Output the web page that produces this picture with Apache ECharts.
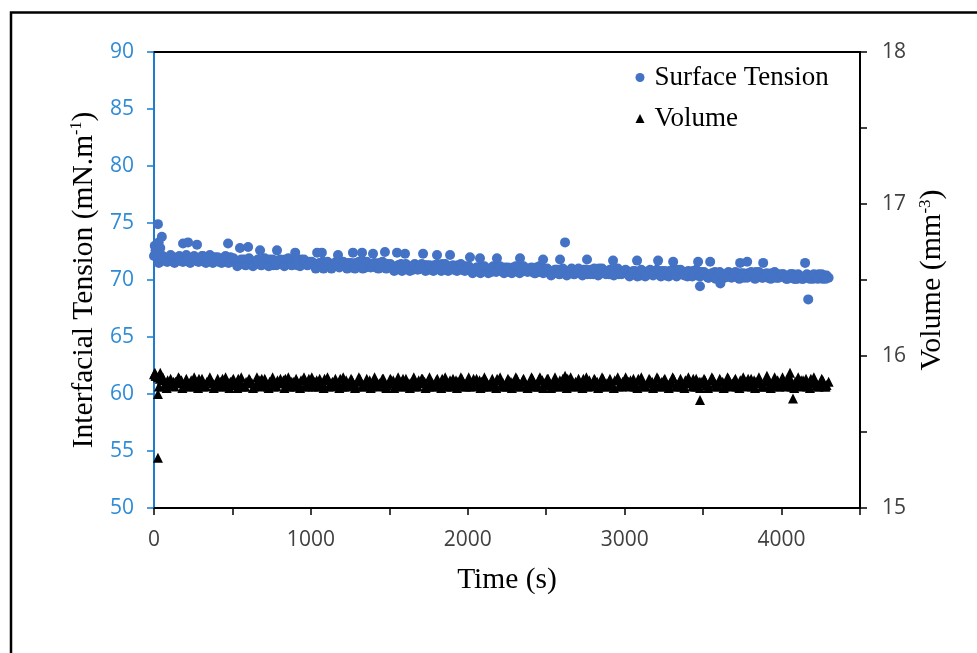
<!DOCTYPE html>
<html>
<head>
<meta charset="utf-8">
<script src="https://cdn.jsdelivr.net/npm/echarts@6/dist/echarts.min.js"></script>
<style>
html,body{margin:0;padding:0;background:#fff;}
#chart{width:977px;height:653px;}
</style>
</head>
<body>
<div id="chart"></div>
<script>
// Time stamps (s) of the dense measurement band (three interleaved sets)
const times = [
0,25,50,75,100,125,150,175,200,225,250,275,300,325,350,375,400,425,450,475,
500,525,550,575,600,625,650,675,700,725,750,775,800,825,850,875,900,925,950,975,
1000,1025,1050,1075,1100,1125,1150,1175,1200,1225,1250,1275,1300,1325,1350,1375,1400,1425,1450,1475,
1500,1525,1550,1575,1600,1625,1650,1675,1700,1725,1750,1775,1800,1825,1850,1875,1900,1925,1950,1975,
2000,2025,2050,2075,2100,2125,2150,2175,2200,2225,2250,2275,2300,2325,2350,2375,2400,2425,2450,2475,
2500,2525,2550,2575,2600,2625,2650,2675,2700,2725,2750,2775,2800,2825,2850,2875,2900,2925,2950,2975,
3000,3025,3050,3075,3100,3125,3150,3175,3200,3225,3250,3275,3300,3325,3350,3375,3400,3425,3450,3475,
3500,3525,3550,3575,3600,3625,3650,3675,3700,3725,3750,3775,3800,3825,3850,3875,3900,3925,3950,3975,
4000,4025,4050,4075,4100,4125,4150,4175,4200,4225,4250,4275,4300
];
const times2 = [
12,37,62,87,112,137,162,187,212,237,262,287,312,337,362,387,412,437,462,487,
512,537,562,587,612,637,662,687,712,737,762,787,812,837,862,887,912,937,962,987,
1012,1037,1062,1087,1112,1137,1162,1187,1212,1237,1262,1287,1312,1337,1362,1387,1412,1437,1462,1487,
1512,1537,1562,1587,1612,1637,1662,1687,1712,1737,1762,1787,1812,1837,1862,1887,1912,1937,1962,1987,
2012,2037,2062,2087,2112,2137,2162,2187,2212,2237,2262,2287,2312,2337,2362,2387,2412,2437,2462,2487,
2512,2537,2562,2587,2612,2637,2662,2687,2712,2737,2762,2787,2812,2837,2862,2887,2912,2937,2962,2987,
3012,3037,3062,3087,3112,3137,3162,3187,3212,3237,3262,3287,3312,3337,3362,3387,3412,3437,3462,3487,
3512,3537,3562,3587,3612,3637,3662,3687,3712,3737,3762,3787,3812,3837,3862,3887,3912,3937,3962,3987,
4012,4037,4062,4087,4112,4137,4162,4187,4212,4237,4262,4287
];
const times3 = [
6,31,56,81,106,131,156,181,206,231,256,281,306,331,356,381,406,431,456,481,
506,531,556,581,606,631,656,681,706,731,756,781,806,831,856,881,906,931,956,981,
1006,1031,1056,1081,1106,1131,1156,1181,1206,1231,1256,1281,1306,1331,1356,1381,1406,1431,1456,1481,
1506,1531,1556,1581,1606,1631,1656,1681,1706,1731,1756,1781,1806,1831,1856,1881,1906,1931,1956,1981,
2006,2031,2056,2081,2106,2131,2156,2181,2206,2231,2256,2281,2306,2331,2356,2381,2406,2431,2456,2481,
2506,2531,2556,2581,2606,2631,2656,2681,2706,2731,2756,2781,2806,2831,2856,2881,2906,2931,2956,2981,
3006,3031,3056,3081,3106,3131,3156,3181,3206,3231,3256,3281,3306,3331,3356,3381,3406,3431,3456,3481,
3506,3531,3556,3581,3606,3631,3656,3681,3706,3731,3756,3781,3806,3831,3856,3881,3906,3931,3956,3981,
4006,4031,4056,4081,4106,4131,4156,4181,4206,4231,4256,4281
];
// Surface tension (mN/m)
const tension = [
72.1,71.9,72.0,71.8,71.9,72.0,71.7,71.9,71.8,71.6,71.9,71.7,71.8,71.6,71.8,71.5,71.7,71.6,71.8,71.5,
71.7,71.5,71.6,71.8,71.4,71.6,71.5,71.7,71.4,71.6,71.3,71.5,71.6,71.4,71.6,71.3,71.5,71.4,71.6,71.3,
71.5,71.2,71.4,71.6,71.3,71.4,71.2,71.5,71.3,71.1,71.4,71.2,71.5,71.3,71.1,71.3,71.4,71.1,71.3,71.2,
71.3,71.0,71.2,71.4,71.1,71.2,70.9,71.2,71.0,71.3,71.1,70.9,71.2,71.0,71.1,70.8,71.1,71.0,71.2,70.9,
71.1,70.8,71.0,71.1,70.8,71.0,70.7,71.0,70.9,70.7,71.0,70.8,71.0,70.7,70.9,70.8,71.0,70.6,70.9,70.8,
70.9,70.6,70.8,70.9,70.6,70.8,70.7,70.5,70.8,70.6,70.9,70.7,70.5,70.8,70.6,70.7,70.5,70.8,70.6,70.7,
70.8,70.5,70.7,70.6,70.4,70.7,70.5,70.8,70.6,70.4,70.6,70.5,70.7,70.4,70.6,70.5,70.3,70.6,70.5,70.4,
70.6,70.3,70.5,70.7,70.4,70.5,70.3,70.6,70.4,70.2,70.5,70.4,70.6,70.3,70.4,70.2,70.5,70.3,70.4,70.2,
70.4,70.2,70.3,70.5,70.1,70.3,70.2,70.4,70.1,70.3,70.2,70.4,70.2
];
const tension2 = [
72.1,71.6,72.0,71.6,71.9,71.7,72.1,71.6,72.0,71.7,71.9,71.6,72.1,71.7,71.8,72.0,71.6,71.9,71.7,72.0,
71.8,71.3,71.7,71.3,71.7,71.4,71.8,71.3,71.6,71.8,71.3,71.7,71.4,71.8,71.4,71.7,71.3,71.8,71.4,71.6,
71.5,71.1,71.5,71.1,71.4,71.1,71.6,71.2,71.4,71.5,71.1,71.5,71.2,71.6,71.2,71.4,71.1,71.5,71.1,71.4,
71.3,70.9,71.3,70.9,71.2,70.9,71.4,71.0,71.2,71.3,70.9,71.3,71.0,71.4,71.0,71.2,70.9,71.3,70.9,71.2,
71.1,70.7,71.1,70.7,71.0,70.7,71.2,70.8,71.0,71.1,70.7,71.1,70.8,71.2,70.8,71.0,70.7,71.1,70.7,71.0,
70.9,70.5,70.9,70.5,70.8,70.5,71.0,70.6,70.8,70.9,70.5,70.9,70.6,71.0,70.6,70.8,70.5,70.9,70.5,70.8,
70.8,70.4,70.8,70.4,70.7,70.4,70.9,70.5,70.7,70.8,70.4,70.8,70.5,70.9,70.5,70.7,70.4,70.8,70.4,70.7,
70.6,70.2,70.6,70.2,70.5,70.2,70.7,70.3,70.5,70.6,70.2,70.6,70.3,70.7,70.3,70.5,70.2,70.6,70.2,70.5,
70.5,70.1,70.5,70.1,70.4,70.1,70.5,70.2,70.4,70.5,70.1,70.4
];
const tension3 = [
72.2,71.5,72.1,71.6,72.2,71.5,72.0,71.6,72.2,71.5,72.1,71.6,72.1,71.5,72.2,71.6,72.0,71.5,72.1,71.6,
71.9,71.2,71.8,71.3,71.9,71.2,71.7,71.3,71.9,71.2,71.8,71.3,71.8,71.2,71.9,71.3,71.7,71.2,71.8,71.3,
71.6,71.0,71.5,71.0,71.6,71.0,71.5,71.1,71.6,71.0,71.5,71.0,71.6,71.0,71.6,71.1,71.5,71.0,71.6,71.0,
71.4,70.8,71.3,70.8,71.4,70.8,71.3,70.9,71.4,70.8,71.3,70.8,71.4,70.8,71.4,70.9,71.3,70.8,71.4,70.8,
71.2,70.6,71.1,70.6,71.2,70.6,71.1,70.7,71.2,70.6,71.1,70.6,71.2,70.6,71.2,70.7,71.1,70.6,71.2,70.6,
71.0,70.4,70.9,70.5,71.0,70.4,70.9,70.5,71.0,70.4,70.9,70.5,71.0,70.4,71.0,70.5,70.9,70.4,71.0,70.5,
70.9,70.3,70.8,70.3,70.9,70.3,70.8,70.4,70.9,70.3,70.8,70.3,70.9,70.3,70.9,70.4,70.8,70.3,70.9,70.3,
70.7,70.2,70.6,70.1,70.7,70.2,70.6,70.2,70.7,70.1,70.6,70.2,70.7,70.1,70.7,70.2,70.6,70.1,70.7,70.2,
70.5,70.1,70.5,70.1,70.5,70.1,70.4,70.1,70.5,70.1,70.5,70.1
];
// Drop volume (mm3)
const volume = [
15.88,15.86,15.84,15.82,15.81,15.83,15.82,15.84,15.81,15.82,15.80,15.83,15.82,15.81,15.84,15.82,15.80,15.83,15.81,15.82,
15.84,15.81,15.82,15.80,15.83,15.82,15.81,15.84,15.82,15.80,15.83,15.81,15.82,15.84,15.81,15.83,15.80,15.82,15.84,15.81,
15.82,15.83,15.80,15.82,15.84,15.81,15.83,15.82,15.80,15.84,15.82,15.81,15.83,15.80,15.82,15.84,15.81,15.82,15.83,15.80,
15.82,15.84,15.81,15.83,15.80,15.82,15.84,15.81,15.82,15.83,15.80,15.82,15.84,15.81,15.83,15.82,15.80,15.84,15.81,15.82,
15.83,15.81,15.82,15.84,15.80,15.82,15.83,15.81,15.84,15.82,15.80,15.83,15.81,15.82,15.84,15.81,15.83,15.82,15.80,15.84,
15.82,15.81,15.83,15.80,15.82,15.84,15.81,15.82,15.83,15.80,15.82,15.84,15.81,15.83,15.82,15.80,15.83,15.81,15.84,15.82,
15.81,15.83,15.82,15.80,15.84,15.81,15.82,15.83,15.80,15.82,15.84,15.81,15.82,15.80,15.83,15.81,15.84,15.82,15.80,15.83,
15.82,15.81,15.84,15.82,15.80,15.83,15.81,15.82,15.84,15.80,15.82,15.83,15.81,15.84,15.82,15.80,15.83,15.81,15.82,15.84,
15.82,15.81,15.83,15.80,15.82,15.84,15.81,15.82,15.83,15.81,15.82,15.80,15.83
];
const volume2 = [
15.87,15.85,15.80,15.84,15.81,15.83,15.85,15.80,15.82,15.84,15.81,15.85,15.80,15.83,15.84,15.81,15.82,15.85,15.80,15.83,
15.81,15.85,15.80,15.83,15.84,15.80,15.82,15.85,15.81,15.83,15.80,15.84,15.82,15.85,15.80,15.83,15.81,15.84,15.80,15.85,
15.80,15.84,15.82,15.85,15.80,15.83,15.81,15.85,15.80,15.82,15.84,15.80,15.85,15.81,15.83,15.80,15.84,15.82,15.85,15.81,
15.84,15.80,15.83,15.85,15.81,15.82,15.80,15.84,15.85,15.81,15.83,15.80,15.82,15.85,15.80,15.84,15.81,15.83,15.85,15.80,
15.80,15.85,15.81,15.83,15.84,15.80,15.82,15.85,15.81,15.80,15.84,15.82,15.85,15.80,15.83,15.81,15.85,15.80,15.84,15.82,
15.85,15.80,15.82,15.84,15.81,15.85,15.80,15.83,15.82,15.85,15.80,15.81,15.84,15.80,15.85,15.82,15.81,15.84,15.80,15.83,
15.81,15.84,15.80,15.85,15.82,15.80,15.84,15.81,15.85,15.83,15.80,15.82,15.85,15.81,15.80,15.84,15.82,15.85,15.80,15.83,
15.84,15.80,15.85,15.81,15.83,15.80,15.85,15.82,15.80,15.84,15.81,15.85,15.80,15.83,15.82,15.80,15.85,15.81,15.84,15.80,
15.82,15.85,15.80,15.83,15.81,15.84,15.80,15.85,15.82,15.80,15.84,15.81
];
const volume3 = [
15.89,15.80,15.86,15.79,15.85,15.80,15.86,15.79,15.85,15.80,15.86,15.79,15.85,15.80,15.86,15.79,15.85,15.80,15.86,15.79,
15.85,15.79,15.86,15.80,15.85,15.79,15.86,15.80,15.85,15.79,15.86,15.80,15.85,15.79,15.86,15.80,15.85,15.79,15.86,15.80,
15.86,15.80,15.85,15.79,15.86,15.80,15.85,15.79,15.86,15.80,15.85,15.79,15.86,15.80,15.85,15.79,15.86,15.80,15.85,15.79,
15.85,15.79,15.86,15.80,15.85,15.79,15.86,15.80,15.85,15.79,15.86,15.80,15.85,15.79,15.86,15.80,15.85,15.79,15.86,15.80,
15.86,15.80,15.85,15.79,15.86,15.80,15.85,15.79,15.86,15.80,15.85,15.79,15.86,15.80,15.85,15.79,15.86,15.80,15.85,15.79,
15.85,15.79,15.86,15.80,15.85,15.79,15.86,15.80,15.85,15.79,15.86,15.80,15.85,15.79,15.86,15.80,15.85,15.79,15.86,15.80,
15.86,15.80,15.85,15.79,15.86,15.80,15.85,15.79,15.86,15.80,15.85,15.79,15.86,15.80,15.85,15.79,15.86,15.80,15.85,15.79,
15.85,15.79,15.86,15.80,15.85,15.79,15.86,15.80,15.85,15.79,15.86,15.80,15.85,15.79,15.86,15.80,15.85,15.79,15.86,15.80,
15.86,15.80,15.85,15.79,15.86,15.80,15.85,15.79,15.86,15.80,15.85,15.80
];
// Scattered surface-tension points away from the band
const tensionExtraT = [5,10,25,30,40,50,185,217,274,472,548,600,676,784,900,1040,1070,1173,1268,1326,1396,1472,1549,1600,1715,1804,1887,2014,2078,2186,2333,2480,2588,2620,2760,2926,3079,3213,3309,3468,3480,3545,3610,3736,3781,3883,4150,4170];
const tensionExtraV = [73.0,72.6,74.9,73.3,72.8,73.8,73.2,73.3,73.1,73.2,72.8,72.9,72.6,72.6,72.4,72.4,72.4,72.2,72.4,72.4,72.3,72.45,72.4,72.3,72.3,72.2,72.2,72.0,71.9,71.9,71.9,71.8,71.8,73.3,71.8,71.7,71.7,71.7,71.6,71.6,69.45,71.6,69.7,71.5,71.6,71.5,71.5,68.3];
// Scattered volume points away from the band
const volumeExtraT = [10,25,25,40,2460,2620,3480,3907,4054,4073];
const volumeExtraV = [15.87,15.75,15.33,15.89,15.86,15.87,15.71,15.87,15.89,15.72];

const leftTicks = {min: 50, max: 90, step: 5};
const rightTicks = {min: 15, max: 18, step: 0.5};
const xTicks = {min: 0, max: 4500, step: 500};

function pairs(t, v) { return t.map((x, i) => [x, v[i]]); }

const serif = '"Liberation Serif","Times New Roman",serif';
const sans = '"Open Sans","Noto Sans",sans-serif';
const chart = echarts.init(document.getElementById('chart'), null, {renderer: 'canvas'});
chart.setOption({
  animation: false,
  backgroundColor: '#fff',
  graphic: [{
    type: 'rect', silent: true, z: -10,
    shape: {x: 11, y: 12.5, width: 1100, height: 800},
    style: {fill: 'none', stroke: '#000', lineWidth: 2.5}
  }],
  grid: {left: 154, right: 117, top: 52, bottom: 145, containLabel: false},
  legend: {
    orient: 'vertical', left: 635.5, top: 64, padding: 0, itemGap: 14,
    itemWidth: 9, itemHeight: 9,
    textStyle: {fontFamily: serif, fontSize: 27, color: '#000', padding: [0, 0, 0, 5]},
    data: [{name: 'Surface Tension', icon: 'circle'}, {name: 'Volume', icon: 'triangle'}]
  },
  xAxis: [{
    type: 'value', min: xTicks.min, max: xTicks.max, interval: xTicks.step,
    name: 'Time (s)', nameLocation: 'middle', nameGap: 57,
    nameTextStyle: {fontFamily: serif, fontSize: 29.5, color: '#000'},
    axisLine: {show: true, onZero: false, lineStyle: {color: '#000', width: 2}},
    axisTick: {show: true, length: 7, lineStyle: {color: '#000', width: 1.5}},
    axisLabel: {fontFamily: sans, fontSize: 21, color: '#404040', margin: 22,
      formatter: v => (v % 1000 === 0 ? String(v) : '')},
    splitLine: {show: false}
  }, {
    type: 'value', position: 'top', min: xTicks.min, max: xTicks.max,
    axisLine: {show: true, onZero: false, lineStyle: {color: '#000', width: 2}},
    axisTick: {show: false}, axisLabel: {show: false}, splitLine: {show: false}
  }],
  yAxis: [{
    type: 'value', position: 'left', min: leftTicks.min, max: leftTicks.max, interval: leftTicks.step,
    name: 'Interfacial Tension (mN.m{sup|-1})', nameLocation: 'middle', nameGap: 52, nameRotate: 90,
    nameTextStyle: {fontFamily: serif, fontSize: 29.5, color: '#000',
      rich: {sup: {fontFamily: serif, fontSize: 16, color: '#000', verticalAlign: 'top'}}},
    axisLine: {show: true, onZero: false, lineStyle: {color: '#1B7CD1', width: 2}},
    axisTick: {show: true, length: 7, lineStyle: {color: '#1B7CD1', width: 1.5}},
    axisLabel: {fontFamily: sans, fontSize: 21, color: '#2F8BD6', margin: 20},
    splitLine: {show: false}
  }, {
    type: 'value', position: 'right', min: rightTicks.min, max: rightTicks.max, interval: rightTicks.step,
    name: 'Volume (mm{sup|-3})', nameLocation: 'middle', nameGap: 57, nameRotate: 90,
    nameTextStyle: {fontFamily: serif, fontSize: 30, color: '#000',
      rich: {sup: {fontFamily: serif, fontSize: 17, color: '#000', verticalAlign: 'top'}}},
    axisLine: {show: true, onZero: false, lineStyle: {color: '#000', width: 2}},
    axisTick: {show: true, length: 7, lineStyle: {color: '#000', width: 1.5}},
    axisLabel: {fontFamily: sans, fontSize: 21, color: '#404040', margin: 22,
      formatter: v => (Math.abs(v - Math.round(v)) < 1e-9 ? String(Math.round(v)) : '')},
    splitLine: {show: false}
  }],
  series: [{
    name: 'Surface Tension', type: 'scatter', xAxisIndex: 0, yAxisIndex: 0,
    symbol: 'circle', symbolSize: 10,
    itemStyle: {color: '#4472C4', opacity: 1},
    data: pairs(times, tension).concat(pairs(times2, tension2), pairs(times3, tension3), pairs(tensionExtraT, tensionExtraV))
  }, {
    name: 'Volume', type: 'scatter', xAxisIndex: 0, yAxisIndex: 1,
    symbol: 'triangle', symbolSize: 10,
    itemStyle: {color: '#000', opacity: 1},
    data: pairs(times, volume).concat(pairs(times2, volume2), pairs(times3, volume3), pairs(volumeExtraT, volumeExtraV))
  }]
});
</script>
</body>
</html>
